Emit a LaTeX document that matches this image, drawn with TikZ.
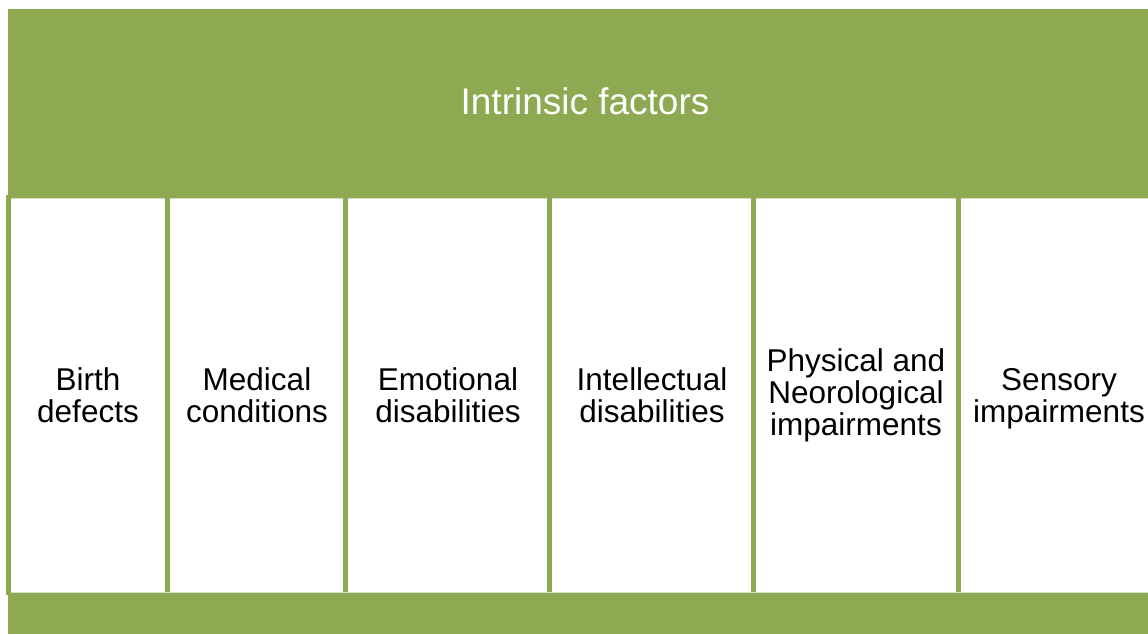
\documentclass[tikz,border=0pt]{standalone}
\usepackage{fontspec}
\setmainfont{Liberation Sans}
\definecolor{olive}{RGB}{141,169,81}
\definecolor{seam}{RGB}{214,225,190}
\begin{document}
\begin{tikzpicture}[x=1pt,y=-1pt,
  banner/.style={fill=olive,draw=none,inner sep=0pt,anchor=north west},
  strip/.style={fill=olive,draw=none,inner sep=0pt,anchor=north west},
  divider/.style={fill=olive,draw=none,inner sep=0pt,anchor=north west,minimum width=5pt},
  cell/.style={fill=white,draw=none,inner sep=0pt,align=center,text=black,
               font=\fontsize{31.5}{32}\selectfont}]
\useasboundingbox (0,0) rectangle (1148,634);
\clip (0,0) rectangle (1148,634);
% header band and footer strip
\node[banner,minimum width=1154pt,minimum height=189pt] (head) at (8,9) {};
\node[text=white,font=\fontsize{37}{40}\selectfont] (headlabel) at (585,101) {Intrinsic factors};
\node[strip,minimum width=1150pt,minimum height=50pt] (foot) at (8,592) {};
% thin light seams along the band edges
\draw[seam,line width=1pt] (head.south west) -- (head.south east);
\draw[seam,line width=1pt] (foot.north west) -- (foot.north east);
% vertical dividers between the columns
\node[divider,minimum height=400pt] (d0) at (6,195) {};
\node[divider,minimum height=394pt] (d1) at (165,198) {};
\node[divider,minimum height=394pt] (d2) at (343,198) {};
\node[divider,minimum height=394pt] (d3) at (547,198) {};
\node[divider,minimum height=394pt] (d4) at (751,198) {};
\node[divider,minimum height=394pt] (d5) at (956,198) {};
% column labels
\node[cell] (c1) at (88,395) {Birth\\defects};
\node[cell] (c2) at (257,395) {Medical\\conditions};
\node[cell] (c3) at (448,395) {Emotional\\disabilities};
\node[cell] (c4) at (652,395) {Intellectual\\disabilities};
\node[cell] (c5) at (856,395) {Physical and\\Neorological\\impairments};
\node[cell] (c6) at (1059,399) {Sensory\\impairments};
\end{tikzpicture}
\end{document}
